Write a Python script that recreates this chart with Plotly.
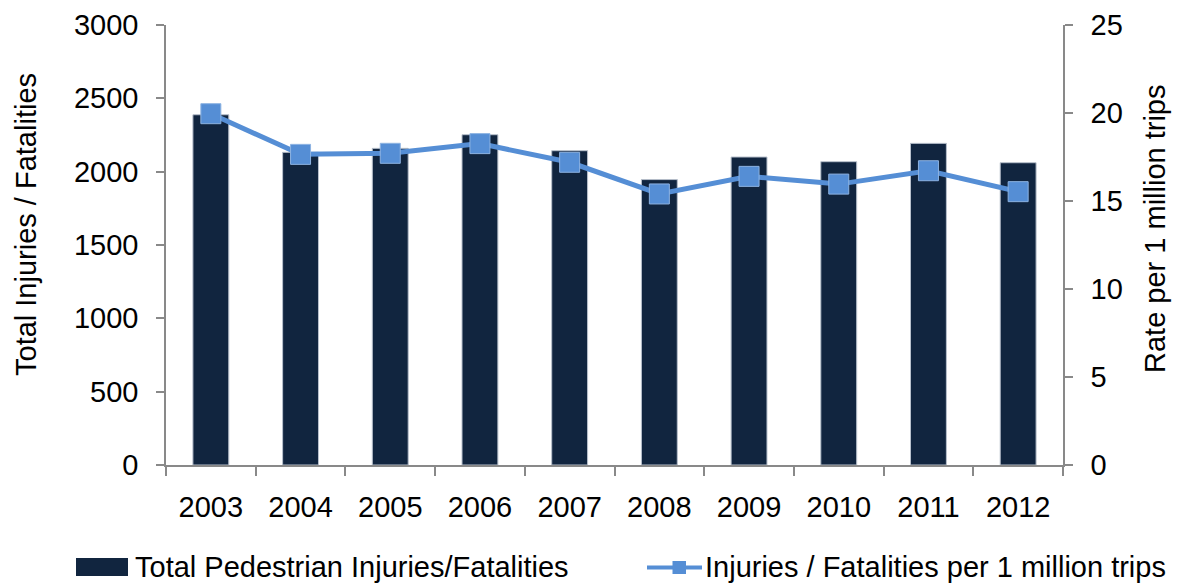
import plotly.graph_objects as go

years = ["2003", "2004", "2005", "2006", "2007", "2008", "2009", "2010", "2011", "2012"]
total_injuries = [2388, 2132, 2159, 2252, 2143, 1946, 2100, 2068, 2193, 2061]
rate_per_million = [19.96, 17.65, 17.71, 18.26, 17.20, 15.40, 16.40, 15.96, 16.72, 15.53]

bar_name = "Total Pedestrian Injuries/Fatalities"
line_name = "Injuries / Fatalities per 1 million trips"
left_title = "Total Injuries / Fatalities"
right_title = "Rate per 1 million trips"

BAR_COLOR = "#11253F"
LINE_COLOR = "#558ED5"
AXIS_COLOR = "#898989"
FONT = "Liberation Sans, Arial, sans-serif"
FS = 29

# page has an 8px body margin, so the figure is drawn offset by 8px
OFF = 8
W, H = 1182 - OFF, 583 - OFF
PL, PT, PW, PH = 166, 25, 897, 440   # plot area in page pixels
L, T = PL - OFF, PT - OFF
R, B = W - L - PW, H - T - PH


def px(x):
    return (x - PL) / PW


def py(y):
    return (PT + PH - y) / PH


fig = go.Figure()
fig.add_trace(go.Bar(
    x=years, y=total_injuries, name=bar_name, width=0.4,
    marker=dict(color=BAR_COLOR, line=dict(color="#B8C0CC", width=1)),
    showlegend=False,
))
fig.add_trace(go.Scatter(
    x=years, y=rate_per_million, name=line_name, yaxis="y2",
    mode="lines+markers",
    line=dict(color=LINE_COLOR, width=5),
    marker=dict(symbol="square", size=20, color=LINE_COLOR,
                line=dict(color="#8DB3E2", width=1)),
    showlegend=False,
))


def axis_common(ticklen=8):
    return dict(
        showgrid=False, zeroline=False, showline=True, linecolor=AXIS_COLOR,
        linewidth=1.5, ticks="outside", ticklen=ticklen, tickcolor=AXIS_COLOR,
        tickwidth=1.5, tickfont=dict(family=FONT, size=FS, color="black"),
        automargin=False,
    )


fig.update_layout(
    width=W, height=H,
    margin=dict(l=L, r=R, t=T, b=B, pad=0, autoexpand=False),
    paper_bgcolor="white", plot_bgcolor="white",
    font=dict(family=FONT, size=FS, color="black"),
    showlegend=False,
    bargap=0.6,
    xaxis=dict(**axis_common(9), type="category", tickson="boundaries",
               range=[-0.5, len(years) - 0.5], ticklabelstandoff=15),
    yaxis=dict(**axis_common(8), range=[0, 3000], dtick=500, ticklabelstandoff=12),
    yaxis2=dict(**axis_common(8), range=[0, 25], dtick=5, overlaying="y",
                side="right", ticklabelstandoff=12),
)

# axis titles
fig.add_annotation(text=left_title, xref="paper", yref="paper",
                   x=px(26), y=py(225), textangle=-90, showarrow=False,
                   xanchor="center", yanchor="middle",
                   font=dict(family=FONT, size=FS, color="black"))
fig.add_annotation(text=right_title, xref="paper", yref="paper",
                   x=px(1155), y=py(229), textangle=-90, showarrow=False,
                   xanchor="center", yanchor="middle",
                   font=dict(family=FONT, size=FS, color="black"))

# custom legend
fig.add_shape(type="rect", xref="paper", yref="paper",
              x0=px(76), x1=px(128), y0=py(576), y1=py(558),
              fillcolor=BAR_COLOR, line=dict(width=0))
fig.add_annotation(text=bar_name, xref="paper", yref="paper",
                   x=px(133), y=py(567), showarrow=False,
                   xanchor="left", yanchor="middle",
                   font=dict(family=FONT, size=FS, color="black"))
fig.add_shape(type="line", xref="paper", yref="paper",
              x0=px(647), x1=px(702), y0=py(567.5), y1=py(567.5),
              line=dict(color=LINE_COLOR, width=4))
fig.add_shape(type="rect", xref="paper", yref="paper",
              x0=px(672.5), x1=px(686), y0=py(574), y1=py(561),
              fillcolor=LINE_COLOR, line=dict(width=0))
fig.add_annotation(text=line_name, xref="paper", yref="paper",
                   x=px(703), y=py(567), showarrow=False,
                   xanchor="left", yanchor="middle",
                   font=dict(family=FONT, size=FS, color="black"))

fig.write_html("out.html")
